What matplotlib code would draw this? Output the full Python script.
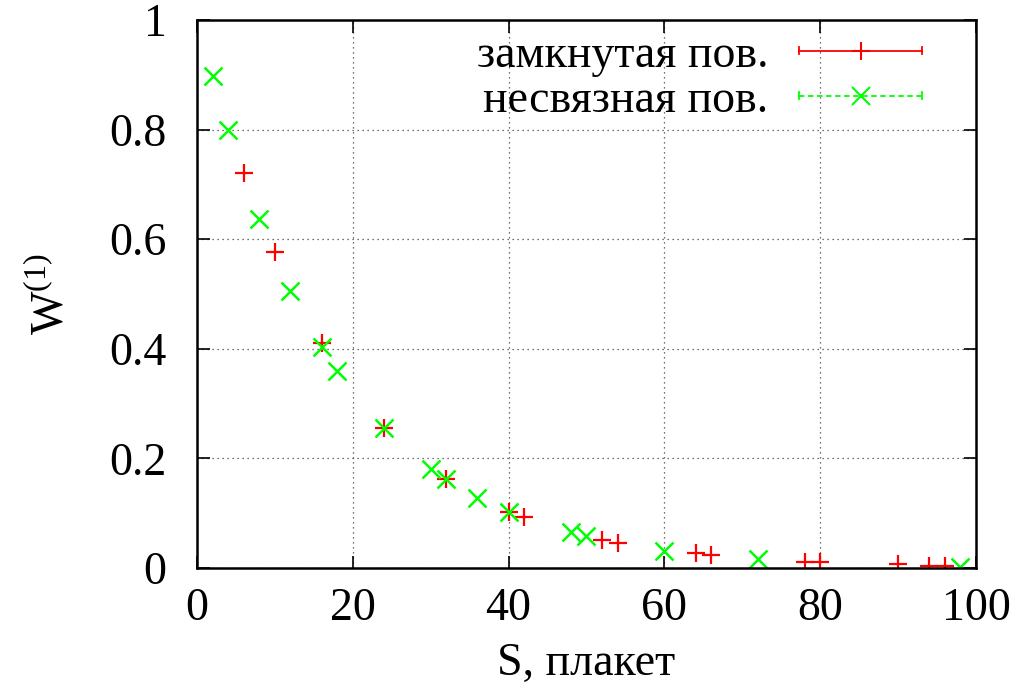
import matplotlib
matplotlib.use('Agg')
import matplotlib.pyplot as plt
from matplotlib.legend_handler import HandlerBase
from matplotlib.lines import Line2D

plt.rcParams['font.family'] = ['Liberation Serif', 'DejaVu Serif']
plt.rcParams['mathtext.fontset'] = 'custom'
plt.rcParams['mathtext.rm'] = 'Liberation Serif'

# замкнутая поверхность (красные +)
s_closed = [6, 10, 16, 24, 32, 40, 42, 52, 54, 64, 66, 78, 80, 90, 94, 96]
w_closed = [0.721, 0.577, 0.411, 0.256, 0.162, 0.103, 0.0925, 0.051, 0.046,
            0.027, 0.024, 0.0116, 0.011, 0.0067, 0.0043, 0.004]

# несвязная поверхность (зелёные x)
s_disc = [2, 4, 8, 12, 16, 18, 24, 30, 32, 36, 40, 48, 50, 60, 72, 98]
w_disc = [0.897, 0.799, 0.636, 0.506, 0.403, 0.359, 0.256, 0.181, 0.162,
          0.128, 0.103, 0.065, 0.058, 0.0316, 0.016, 0.0025]

labels = ['замкнутая пов.', 'несвязная пов.']
x_ticks = [0, 20, 40, 60, 80, 100]
y_ticks = [0, 0.2, 0.4, 0.6, 0.8, 1.0]
y_tick_labels = ['0', '0.2', '0.4', '0.6', '0.8', '1']

RED = '#ff0000'
GREEN = '#00ff00'
FS = 33


class HandlerCapLine(HandlerBase):
    # линия с засечками на концах, как в gnuplot
    def __init__(self, ls, marker, ms):
        super().__init__()
        self.ls = ls
        self.marker = marker
        self.ms = ms

    def create_artists(self, legend, orig_handle, xdescent, ydescent,
                       width, height, fontsize, trans):
        color = orig_handle.get_color()
        x0 = -xdescent
        x1 = -xdescent + width
        y = (height - ydescent) / 2
        cap = 2.6
        arts = [
            Line2D([x0, x1], [y, y], color=color, lw=1.3, ls=self.ls),
            Line2D([x0, x0], [y - cap, y + cap], color=color, lw=1.3),
            Line2D([x1, x1], [y - cap, y + cap], color=color, lw=1.3),
            Line2D([(x0 + x1) / 2], [y], color=color, ls='none',
                   marker=self.marker, ms=self.ms, mew=1.5),
        ]
        for a in arts:
            a.set_transform(trans)
        return arts


fig = plt.figure(figsize=(10.27, 6.97), dpi=100)
ax = fig.add_axes([0.1918, 0.185, 0.7585, 0.7863])

ax.plot(s_closed, w_closed, ls='none', marker='+', color=RED, ms=13, mew=1.6)
ax.plot(s_disc, w_disc, ls='none', marker='x', color=GREEN, ms=13, mew=1.8)

ax.set_xlim(0, 100)
ax.set_ylim(0, 1)
ax.set_xticks(x_ticks)
ax.set_yticks(y_ticks)
ax.set_yticklabels(y_tick_labels)
ax.tick_params(direction='in', length=9, width=1.2, top=True, right=True,
               labelsize=FS)
ax.tick_params(axis='y', pad=22)
ax.tick_params(axis='x', pad=14)
for sp in ax.spines.values():
    sp.set_linewidth(1.8)

ax.grid(True, color='#444444', linestyle=(0, (1, 3)), linewidth=0.9)

ax.set_xlabel('S, плакет', fontsize=FS)
ax.xaxis.set_label_coords(0.5, -0.135)
ax.set_ylabel(r'W$^{\rm (1)}$', fontsize=FS)
ax.yaxis.set_label_coords(-0.159, 0.5)

h1 = Line2D([], [], color=RED)
h2 = Line2D([], [], color=GREEN)
ax.legend([h1, h2], labels, loc='center right',
          bbox_to_anchor=(922 / 1027, 1 - 78 / 697),
          bbox_transform=fig.transFigure,
          frameon=False, markerfirst=False, fontsize=FS,
          borderpad=0, borderaxespad=0,
          handlelength=2.68, handletextpad=0.67, labelspacing=0.05,
          handler_map={h1: HandlerCapLine('-', '+', 13),
                       h2: HandlerCapLine((0, (3, 2)), 'x', 13)})

fig.savefig('out.png', dpi=100)
